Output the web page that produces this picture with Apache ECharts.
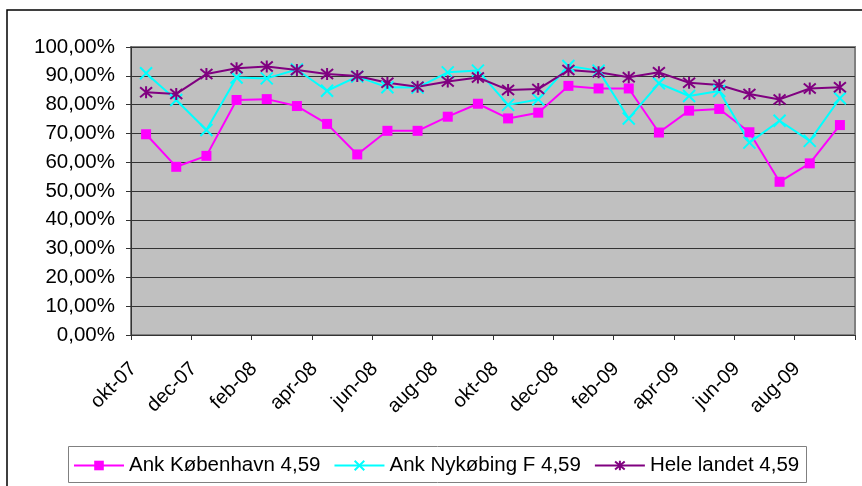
<!DOCTYPE html>
<html>
<head>
<meta charset="utf-8">
<script src="https://cdn.jsdelivr.net/npm/echarts@6/dist/echarts.min.js"></script>
<style>
html,body{margin:0;padding:0;background:#fff;}
#c{width:862px;height:486px;}
</style>
</head>
<body>
<div id="c"></div>
<script>
const categories = ['okt-07','nov-07','dec-07','jan-08','feb-08','mar-08','apr-08','maj-08','jun-08','jul-08','aug-08','sep-08','okt-08','nov-08','dec-08','jan-09','feb-09','mar-09','apr-09','maj-09','jun-09','jul-09','aug-09','sep-09'];
const kobenhavn = [69.7,58.4,62.2,81.6,81.9,79.5,73.3,62.7,70.9,70.9,75.8,80.3,75.2,77.2,86.5,85.6,85.6,70.3,77.9,78.5,70.4,53.2,59.6,72.9];
const nykobing = [90.9,81.6,71.2,89.4,89.1,92.2,84.8,89.7,86.0,85.9,91.2,91.8,79.9,81.8,93.4,91.8,75.2,87.4,83.0,84.7,66.8,74.4,67.4,82.2];
const heleLandet = [84.3,83.7,90.6,92.6,93.2,92.0,90.6,89.9,87.6,86.2,88.0,89.4,85.1,85.4,92.0,91.2,89.5,91.2,87.6,86.8,83.7,81.8,85.6,86.0];
const seriesNames = ['Ank København 4,59','Ank Nykøbing F 4,59','Hele landet 4,59'];

const FONT = 'Liberation Sans, Arial, sans-serif';
const chart = echarts.init(document.getElementById('c'), null, {renderer:'canvas'});
const xPath = 'path://M0,0L10,10M10,0L0,10';
const starPath = 'path://M0,0L10,10M10,0L0,10M5,-1L5,11';

chart.setOption({
  animation:false,
  backgroundColor:'#ffffff',
  graphic:[
    {type:'rect', shape:{x:7,y:10,width:900,height:520}, style:{fill:'none',stroke:'#000',lineWidth:1.5}, z:-10},
    {type:'rect', shape:{x:68.5,y:446.5,width:738,height:36}, style:{fill:'#fff',stroke:'#808080',lineWidth:1}, z:-5}
  ],
  grid:{left:131,right:7,top:47,bottom:151,show:true,backgroundColor:'#C0C0C0',borderColor:'#808080',borderWidth:2},
  legend:{
    data:seriesNames,
    left:73, top:455,
    itemWidth:50, itemHeight:12, itemGap:13,
    textStyle:{fontFamily:FONT,fontSize:20.5,color:'#000'},
    padding:0
  },
  xAxis:{
    type:'category', data:categories, boundaryGap:true,
    axisLine:{lineStyle:{color:'#333',width:1}},
    axisTick:{show:true,interval:1,length:5,lineStyle:{color:'#333'}},
    axisLabel:{interval:1,rotate:45,fontFamily:FONT,fontSize:20,color:'#000',margin:18,padding:[0,18,0,0]},
    splitLine:{show:false}
  },
  yAxis:{
    type:'value', min:0, max:100, interval:10,
    axisLine:{show:true,lineStyle:{color:'#333',width:1}},
    axisTick:{show:true,length:5,lineStyle:{color:'#333'}},
    axisLabel:{fontFamily:FONT,fontSize:20.5,color:'#000',margin:16,
      formatter:v=>v.toFixed(2).replace('.',',')+'%'},
    splitLine:{show:true,lineStyle:{color:'#333',width:1}}
  },
  series:[
    {name:seriesNames[0],type:'line',data:kobenhavn,symbol:'rect',symbolSize:10,
     lineStyle:{color:'#FF00FF',width:2},itemStyle:{color:'#FF00FF'}},
    {name:seriesNames[1],type:'line',data:nykobing,symbol:xPath,symbolSize:12,
     lineStyle:{color:'#00FFFF',width:2},itemStyle:{color:'none',borderColor:'#00FFFF',borderWidth:2}},
    {name:seriesNames[2],type:'line',data:heleLandet,symbol:starPath,symbolSize:12,
     lineStyle:{color:'#800080',width:2},itemStyle:{color:'none',borderColor:'#800080',borderWidth:2}}
  ]
});
</script>
</body>
</html>
